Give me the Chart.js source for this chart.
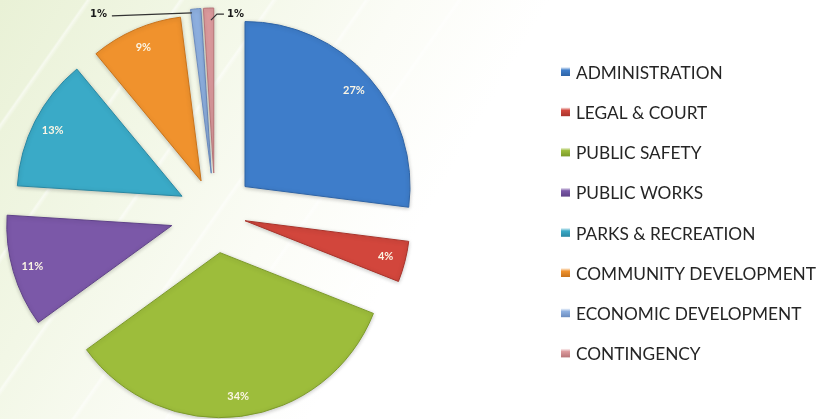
<!DOCTYPE html>
<html lang="en">
<head>
<meta charset="UTF-8">
<title>Budget by Department</title>
<script src="https://cdn.jsdelivr.net/npm/chart.js"></script>
<style>
    html, body {
        margin: 0;
        padding: 0;
    }

    body {
        width: 817px;
        height: 419px;
        overflow: hidden;
        /* pale green wash in the top left corner */
        background:
            repeating-linear-gradient(125deg, rgba(255,255,255,0) 0px, rgba(255,255,255,0) 70px, rgba(255,255,255,0.55) 72px, rgba(255,255,255,0) 76px),
            linear-gradient(120deg, #e9f1d6 0%, #f2f7e6 20%, #fbfcf6 38%, #ffffff 52%);
    }

    #budgetChart {
        display: block;
    }
</style>
</head>
<body>
<canvas id="budgetChart" width="817" height="419"></canvas>

<script>
    // departments and their share of the budget (%)
    const departments = [
        'ADMINISTRATION',
        'LEGAL & COURT',
        'PUBLIC SAFETY',
        'PUBLIC WORKS',
        'PARKS & RECREATION',
        'COMMUNITY DEVELOPMENT',
        'ECONOMIC DEVELOPMENT',
        'CONTINGENCY'
    ];
    const shares = [27, 4, 34, 11, 13, 9, 1, 1];

    const sliceColors = ['#3e7dca', '#d2463c', '#9dbd3b', '#7b58a8', '#3aaac7', '#f0922d', '#8eb0e0', '#dc9a9d'];
    const edgeColors  = ['#2f64a6', '#a8332b', '#7c9a2a', '#5f4288', '#2a88a3', '#c8731c', '#6b8cbf', '#b77578'];
    // how far each slice is pulled out from the centre (px)
    const explode = [40, 31, 40, 45, 37, 35, 40, 40];

    // draw the arcs ourselves so each one can be shifted along its bisector
    const explodedSlices = {
        id: 'explodedSlices',
        beforeDatasetDraw(chart, args) {
            const ctx = chart.ctx;
            args.meta.data.forEach((arc, i) => {
                const mid = (arc.startAngle + arc.endAngle) / 2;
                ctx.save();
                ctx.shadowColor = 'rgba(0,0,0,0.22)';
                ctx.shadowBlur = 4;
                ctx.shadowOffsetY = 1;
                ctx.translate(Math.cos(mid) * explode[i], Math.sin(mid) * explode[i]);
                arc.draw(ctx);
                ctx.restore();
            });
            return false;
        }
    };

    // percentage labels: inside the big slices, outside with a leader for the 1% ones
    const sliceLabels = {
        id: 'sliceLabels',
        afterDatasetsDraw(chart) {
            const ctx = chart.ctx;
            const meta = chart.getDatasetMeta(0);
            meta.data.forEach((arc, i) => {
                const mid = (arc.startAngle + arc.endAngle) / 2;
                const cos = Math.cos(mid), sin = Math.sin(mid);
                const r = arc.outerRadius;
                const d = explode[i];
                const text = shares[i] + '%';
                ctx.save();
                if (shares[i] > 2) {
                    const dist = d + r * 0.88;
                    ctx.font = 'bold 11px Lato';
                    ctx.fillStyle = '#fbf5e4';
                    ctx.textAlign = 'center';
                    ctx.textBaseline = 'middle';
                    ctx.fillText(text, arc.x + cos * dist, arc.y + sin * dist);
                } else {
                    ctx.font = 'bold 10px "DejaVu Sans"';
                    ctx.fillStyle = '#1a1a1a';
                    ctx.strokeStyle = '#333';
                    ctx.lineWidth = 1.2;
                    ctx.textBaseline = 'middle';
                    if (i === 6) {
                        // left of the slice, long straight leader
                        const ax = arc.x + cos * (d + r - 2);
                        const ay = arc.y + sin * (d + r - 2);
                        ctx.beginPath();
                        ctx.moveTo(ax - 4, ay + 2);
                        ctx.lineTo(ax - 84, ay + 5);
                        ctx.stroke();
                        ctx.textAlign = 'right';
                        ctx.fillText(text, ax - 89, ay + 4);
                    } else {
                        // right of the slice, short bent leader
                        const ax = arc.x + cos * (d + r - 12);
                        const ay = arc.y + sin * (d + r - 12);
                        ctx.beginPath();
                        ctx.moveTo(ax + 2, ay);
                        ctx.lineTo(ax + 8, ay - 6);
                        ctx.lineTo(ax + 15, ay - 6);
                        ctx.stroke();
                        ctx.textAlign = 'left';
                        ctx.fillText(text, ax + 18, ay - 6);
                    }
                }
                ctx.restore();
            });
        }
    };

    // legend column on the right
    const sideLegend = {
        id: 'sideLegend',
        afterDraw(chart) {
            const ctx = chart.ctx;
            const rowGap = 40.2;
            const boxX = 561, textX = 576, maxTextWidth = 240;
            const top = 72;
            ctx.save();
            ctx.font = '18px Lato';
            const widest = Math.max(...departments.map(t => ctx.measureText(t).width));
            const squeeze = Math.min(1.15, maxTextWidth / widest);
            departments.forEach((name, i) => {
                const y = top + i * rowGap;
                const g = ctx.createLinearGradient(0, y - 5, 0, y + 4);
                g.addColorStop(0, '#ffffff');
                g.addColorStop(0.35, sliceColors[i]);
                g.addColorStop(1, edgeColors[i]);
                ctx.fillStyle = g;
                ctx.fillRect(boxX, y - 5, 9, 9);
                ctx.save();
                ctx.translate(textX, y);
                ctx.scale(squeeze, 1);
                ctx.fillStyle = '#252525';
                ctx.textBaseline = 'middle';
                ctx.textAlign = 'left';
                ctx.fillText(name, 0, 1);
                ctx.restore();
            });
            ctx.restore();
        }
    };

    new Chart(document.getElementById('budgetChart'), {
        type: 'pie',
        data: {
            labels: departments,
            datasets: [{
                data: shares,
                backgroundColor: sliceColors,
                borderColor: edgeColors,
                borderWidth: 1
            }]
        },
        options: {
            responsive: false,
            animation: false,
            events: [],
            radius: 165,
            layout: {
                padding: { left: 0, right: 387, top: 7, bottom: 0 }
            },
            plugins: {
                legend: { display: false },
                tooltip: { enabled: false }
            }
        },
        plugins: [explodedSlices, sliceLabels, sideLegend]
    });
</script>
</body>
</html>
